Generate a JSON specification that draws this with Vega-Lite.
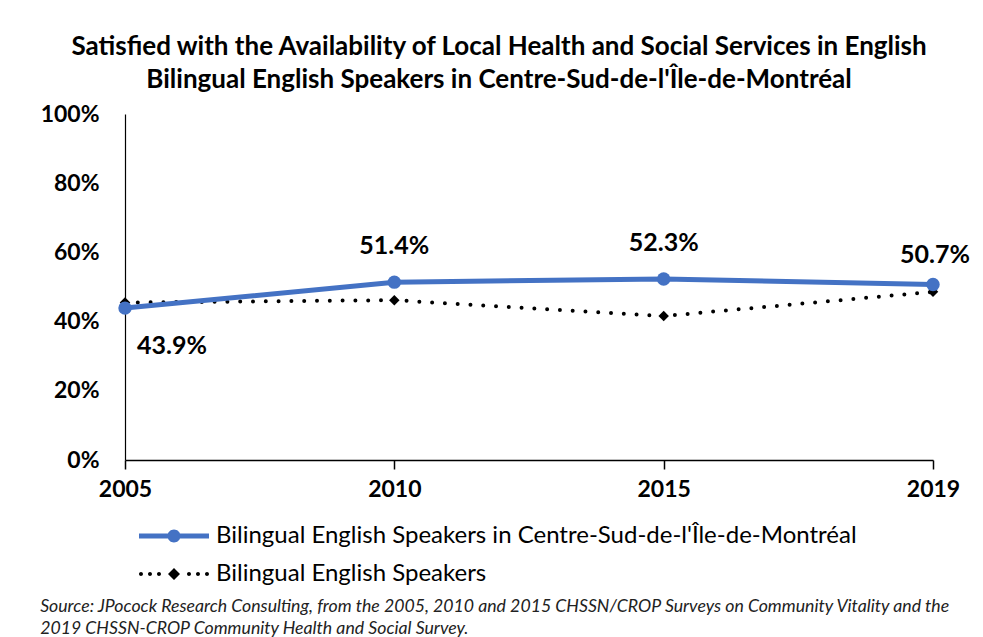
{
  "$schema": "https://vega.github.io/schema/vega-lite/v6.json",
  "padding": {"left": 40, "top": 34, "right": 15, "bottom": 0},
  "background": "white",
  "title": {
    "text": ["Satisfied with the Availability of Local Health and Social Services in English", "Bilingual English Speakers in Centre-Sud-de-l'Île-de-Montréal"],
    "anchor": "middle", "fontSize": 26, "font": "Lato", "fontWeight": "bold", "color": "#000", "lineHeight": 33, "offset": 10, "dx": -6
  },
  "vconcat": [
    {
      "width": 808,
      "height": 346,
      "title": {
        "text": ["Source: JPocock Research Consulting, from the 2005, 2010  and 2015  CHSSN/CROP Surveys on Community Vitality and the", "2019  CHSSN-CROP Community Health and Social Survey."],
        "orient": "bottom", "anchor": "start", "frame": "bounds", "fontSize": 17.7, "fontStyle": "italic", "fontWeight": "normal", "font": "Lato", "color": "#222", "lineHeight": 22, "offset": -22
      },
      "data": {
        "values": [
          {"year": "2005", "series": "Bilingual English Speakers in Centre-Sud-de-l'Île-de-Montréal", "value": 0.439},
          {"year": "2010", "series": "Bilingual English Speakers in Centre-Sud-de-l'Île-de-Montréal", "value": 0.514},
          {"year": "2015", "series": "Bilingual English Speakers in Centre-Sud-de-l'Île-de-Montréal", "value": 0.523},
          {"year": "2019", "series": "Bilingual English Speakers in Centre-Sud-de-l'Île-de-Montréal", "value": 0.507},
          {"year": "2005", "series": "Bilingual English Speakers", "value": 0.455},
          {"year": "2010", "series": "Bilingual English Speakers", "value": 0.462},
          {"year": "2015", "series": "Bilingual English Speakers", "value": 0.416},
          {"year": "2019", "series": "Bilingual English Speakers", "value": 0.486}
        ]
      },
      "encoding": {
        "x": {
          "field": "year", "type": "ordinal",
          "scale": {"type": "point", "padding": 0},
          "axis": {"title": null, "labelAngle": 0, "domainColor": "#000", "domainWidth": 1.5, "tickColor": "#000", "tickSize": 9, "tickWidth": 1.5, "labelFont": "Lato", "labelFontSize": 23, "labelFontWeight": "bold", "labelColor": "#000", "labelPadding": 9}
        },
        "y": {
          "field": "value", "type": "quantitative",
          "scale": {"domain": [0, 1]},
          "axis": {"title": null, "format": ".0%", "values": [0, 0.2, 0.4, 0.6, 0.8, 1], "grid": false, "ticks": false, "domainColor": "#000", "domainWidth": 1.2, "labelFont": "Lato", "labelFontSize": 23, "labelFontWeight": "bold", "labelColor": "#000", "labelPadding": 26}
        }
      },
      "layer": [
        {
          "transform": [{"filter": {"field": "series", "equal": "Bilingual English Speakers"}}],
          "mark": {"type": "line", "color": "#000", "strokeWidth": 4, "strokeDash": [0, 12.8], "strokeCap": "round"}
        },
        {
          "transform": [{"filter": {"field": "series", "equal": "Bilingual English Speakers"}}],
          "mark": {"type": "point", "shape": "diamond", "filled": true, "color": "#000", "size": 110, "opacity": 1}
        },
        {
          "transform": [{"filter": {"field": "series", "equal": "Bilingual English Speakers in Centre-Sud-de-l'Île-de-Montréal"}}],
          "mark": {"type": "line", "color": "#4472C4", "strokeWidth": 5}
        },
        {
          "transform": [{"filter": {"field": "series", "equal": "Bilingual English Speakers in Centre-Sud-de-l'Île-de-Montréal"}}],
          "mark": {"type": "point", "shape": "circle", "filled": true, "color": "#4472C4", "size": 180, "opacity": 1}
        },
        {
          "transform": [
            {"filter": {"field": "series", "equal": "Bilingual English Speakers in Centre-Sud-de-l'Île-de-Montréal"}},
            {"filter": {"field": "year", "equal": "2005"}}
          ],
          "mark": {"type": "text", "font": "Lato", "fontSize": 25, "fontWeight": "bold", "color": "#000", "dx": 47, "dy": 38},
          "encoding": {"text": {"field": "value", "type": "quantitative", "format": ".1%"}}
        },
        {
          "transform": [
            {"filter": {"field": "series", "equal": "Bilingual English Speakers in Centre-Sud-de-l'Île-de-Montréal"}},
            {"filter": {"field": "year", "oneOf": ["2010", "2015"]}}
          ],
          "mark": {"type": "text", "font": "Lato", "fontSize": 25, "fontWeight": "bold", "color": "#000", "dy": -36},
          "encoding": {"text": {"field": "value", "type": "quantitative", "format": ".1%"}}
        },
        {
          "transform": [
            {"filter": {"field": "series", "equal": "Bilingual English Speakers in Centre-Sud-de-l'Île-de-Montréal"}},
            {"filter": {"field": "year", "equal": "2019"}}
          ],
          "mark": {"type": "text", "font": "Lato", "fontSize": 25, "fontWeight": "bold", "color": "#000", "dx": 2, "dy": -30},
          "encoding": {"text": {"field": "value", "type": "quantitative", "format": ".1%"}}
        },
        {
          "mark": {"type": "point", "filled": true, "opacity": 0},
          "encoding": {
            "color": {
              "field": "series", "type": "nominal",
              "scale": {"domain": ["Bilingual English Speakers in Centre-Sud-de-l'Île-de-Montréal", "Bilingual English Speakers"], "range": ["#4472C4", "#000000"]},
              "legend": {"title": null, "orient": "bottom", "direction": "vertical", "symbolSize": 900, "symbolOpacity": 1, "symbolStrokeWidth": 0, "labelFont": "Lato", "labelFontSize": 24, "labelColor": "#000", "labelOffset": 27, "rowPadding": 11, "offset": -14, "padding": 34, "labelLimit": 1000}
            },
            "shape": {
              "field": "series", "type": "nominal",
              "scale": {
                "domain": ["Bilingual English Speakers in Centre-Sud-de-l'Île-de-Montréal", "Bilingual English Speakers"],
                "range": [
                  "M-2.333,-0.167L2.333,-0.167L2.333,0.167L-2.333,0.167Z M0.433,0A0.433,0.433 0 1,1 -0.433,0A0.433,0.433 0 1,1 0.433,0Z",
                  "M-2.067,0A0.133,0.133 0 1,1 -2.333,0A0.133,0.133 0 1,1 -2.067,0Z M-1.467,0A0.133,0.133 0 1,1 -1.733,0A0.133,0.133 0 1,1 -1.467,0Z M-0.867,0A0.133,0.133 0 1,1 -1.133,0A0.133,0.133 0 1,1 -0.867,0Z M1.133,0A0.133,0.133 0 1,1 0.867,0A0.133,0.133 0 1,1 1.133,0Z M1.733,0A0.133,0.133 0 1,1 1.467,0A0.133,0.133 0 1,1 1.733,0Z M2.333,0A0.133,0.133 0 1,1 2.067,0A0.133,0.133 0 1,1 2.333,0Z M0,-0.4L0.4,0L0,0.4L-0.4,0Z"
                ]
              },
              "legend": {"title": null, "orient": "bottom", "direction": "vertical", "symbolSize": 900, "symbolOpacity": 1, "symbolStrokeWidth": 0, "labelFont": "Lato", "labelFontSize": 24, "labelColor": "#000", "labelOffset": 27, "rowPadding": 11, "offset": -14, "padding": 34, "labelLimit": 1000}
            }
          }
        }
      ],
      "resolve": {"legend": {"color": "independent", "shape": "independent"}}
    }
  ],
  "resolve": {"legend": {"color": "independent", "shape": "independent"}},
  "config": {
    "view": {"stroke": null},
    "font": "Lato"
  }
}
